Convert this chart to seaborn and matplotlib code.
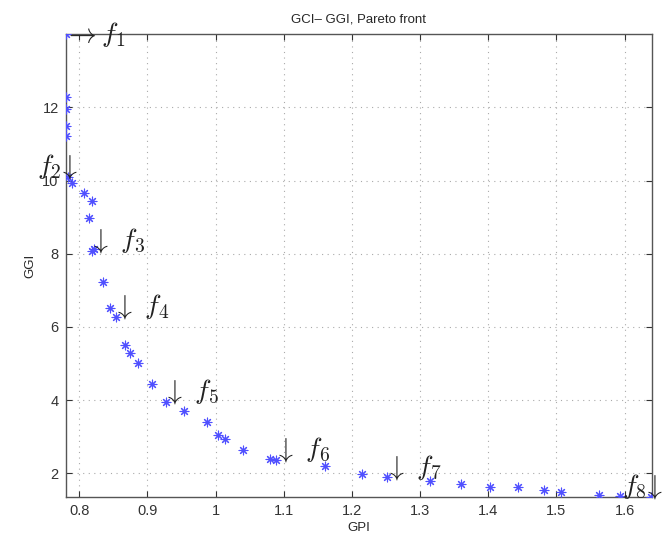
import matplotlib
matplotlib.use("Agg")
import matplotlib.pyplot as plt
import seaborn as sns
import pandas as pd

sns.set_theme(style="ticks")
plt.rcParams['font.family'] = ['Liberation Sans', 'DejaVu Sans']
plt.rcParams['mathtext.fontset'] = 'cm'

# Pareto front points
gpi = [0.780, 0.780, 0.781, 0.780, 0.780, 0.784, 0.790, 0.807, 0.818, 0.814,
       0.819, 0.822, 0.835, 0.845, 0.854, 0.867, 0.874, 0.886, 0.906, 0.927,
       0.954, 0.988, 1.003, 1.014, 1.040, 1.080, 1.089, 1.160, 1.215, 1.252,
       1.314, 1.360, 1.402, 1.444, 1.482, 1.507, 1.562, 1.593, 1.639]
ggi = [14.00, 12.28, 11.96, 11.49, 11.21, 10.10, 9.94, 9.67, 9.44, 8.97,
       8.08, 8.12, 7.22, 6.51, 6.28, 5.51, 5.29, 5.01, 4.43, 3.95,
       3.70, 3.40, 3.04, 2.93, 2.63, 2.38, 2.36, 2.19, 1.99, 1.89,
       1.79, 1.70, 1.63, 1.63, 1.54, 1.48, 1.40, 1.39, 1.36]

# labelled solutions: (index into the front, label)
etiquetas = ['$\\rightarrow f_1$', '$f_2\\!\\downarrow$', '$\\downarrow\\ f_3$', '$\\downarrow\\ f_4$',
             '$\\downarrow\\ f_5$', '$\\downarrow\\ f_6$', '$\\downarrow\\ f_7$', '$f_8\\!\\downarrow$']
indices = [0, 5, 10, 14, 19, 26, 29, 38]

df = pd.DataFrame({'GPI': gpi, 'GGI': ggi})

fig = plt.figure(figsize=(6.7, 5.41), dpi=100)
ax = fig.add_axes([0.098, 0.081, 0.875, 0.856])

sns.scatterplot(data=df, x='GPI', y='GGI', ax=ax, marker=(8, 2, 0),
                color='#5050ff', s=40, linewidth=0.8, zorder=3)

# posições dos rótulos (deslocamento em pontos e alinhamento)
offsets = [(-1, 0, 'left', 'center'), (7, -3, 'right', 'bottom'),
           (-2, -3, 'left', 'bottom'), (-2, -3, 'left', 'bottom'),
           (-2, -3, 'left', 'bottom'), (-2, -3, 'left', 'bottom'),
           (-2, -3, 'left', 'bottom'), (9, -3, 'right', 'bottom')]
for lab, i, (dx, dy, ha, va) in zip(etiquetas, indices, offsets):
    ax.annotate(lab, (gpi[i], ggi[i]), xytext=(dx, dy), textcoords='offset points',
                ha=ha, va=va, fontsize=20, color='#222222', zorder=4,
                annotation_clip=False)

ax.set_xlim(0.78, 1.64)
ax.set_ylim(1.35, 14.0)
ax.set_xticks([0.8, 0.9, 1.0, 1.1, 1.2, 1.3, 1.4, 1.5, 1.6])
ax.set_xticklabels(['0.8', '0.9', '1', '1.1', '1.2', '1.3', '1.4', '1.5', '1.6'])
ax.set_yticks([2, 4, 6, 8, 10, 12])

ax.grid(True, linestyle=(0, (1, 4)), color='#aaaaaa', linewidth=0.8)
ax.tick_params(direction='in', top=True, right=True, length=4, width=0.8,
               labelsize=10.5, colors='#333333', pad=5)
for sp in ax.spines.values():
    sp.set_color('#555555')
    sp.set_linewidth(1.0)

ax.set_title('GCI\u2013 GGI, Pareto front', fontsize=9.5, pad=8)
ax.set_xlabel('GPI', fontsize=9.5, labelpad=3)
ax.set_ylabel('GGI', fontsize=9.5, labelpad=4)

fig.savefig('out.png', dpi=100)
